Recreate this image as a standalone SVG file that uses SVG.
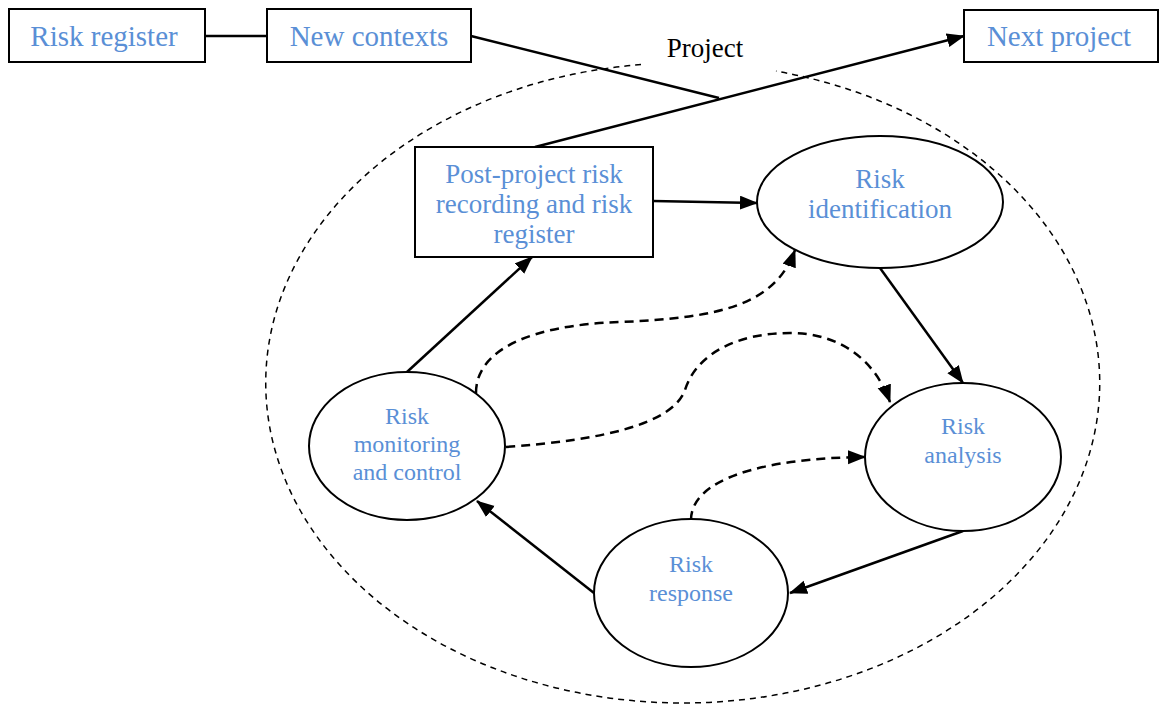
<svg xmlns="http://www.w3.org/2000/svg" width="1163" height="705" viewBox="0 0 1163 705">
<style>
.box{fill:#fff;stroke:#000;stroke-width:2}
.node{fill:#fff;stroke:#000;stroke-width:2}
.t{font-family:"Liberation Serif","Times New Roman",serif;fill:#5A8FD6;text-anchor:middle}
.lbl{font-family:"Liberation Serif","Times New Roman",serif;fill:#000;text-anchor:middle;font-size:27px}
.big{font-size:29px}
.mid{font-size:27px}
.sm{font-size:24px}
.solid{fill:none;stroke:#000;stroke-width:2.5}
.dash{fill:none;stroke:#000;stroke-width:2.5;stroke-dasharray:9 6}
.proj{fill:none;stroke:#000;stroke-width:1.5;stroke-dasharray:6 5}
</style>
<defs>
<marker id="ah" markerUnits="userSpaceOnUse" markerWidth="20" markerHeight="16" refX="17" refY="7" orient="auto">
<path d="M0,0 L18,7 L0,14 z" fill="#000"/>
</marker>
</defs>
<rect width="1163" height="705" fill="#fff"/>

<g id="project-boundary">
<path class="proj" d="M641,64.6 A417,320 0 1,0 776,71.1"/>
<text class="lbl" x="705" y="57">Project</text>
</g>

<g id="connectors">
<line class="solid" x1="205" y1="36" x2="267" y2="36"/>
<line class="solid" x1="471" y1="36" x2="719" y2="98"/>
<line class="solid" x1="535" y1="147" x2="964" y2="36" marker-end="url(#ah)"/>
<line class="solid" x1="653" y1="201" x2="757" y2="203" marker-end="url(#ah)"/>
<line class="solid" x1="880" y1="268" x2="963" y2="383" marker-end="url(#ah)"/>
<line class="solid" x1="963" y1="531" x2="790" y2="593" marker-end="url(#ah)"/>
<line class="solid" x1="594" y1="593" x2="477" y2="501" marker-end="url(#ah)"/>
<line class="solid" x1="407" y1="372" x2="532" y2="257" marker-end="url(#ah)"/>
<path class="dash" d="M476,393 C476,350 530,325 620,322 C720,318 775,305 795,250" marker-end="url(#ah)"/>
<path class="dash" d="M506,447 C600,440 672,425 685,390 C697,352 740,333 790,333 C840,333 875,360 890,402" marker-end="url(#ah)"/>
<path class="dash" d="M691,520 C691,480 760,458 865,457" marker-end="url(#ah)"/>
</g>

<g id="risk-register">
<rect class="box" x="9" y="9" width="196" height="53"/>
<text class="t big" x="104" y="46">Risk register</text>
</g>
<g id="new-contexts">
<rect class="box" x="267" y="9" width="204" height="53"/>
<text class="t big" x="369" y="46">New contexts</text>
</g>
<g id="next-project">
<rect class="box" x="964" y="10" width="194" height="52"/>
<text class="t big" x="1059" y="46">Next project</text>
</g>
<g id="post-project">
<rect class="box" x="415" y="147" width="238" height="110"/>
<text class="t mid" x="534" y="183">Post-project risk</text>
<text class="t mid" x="534" y="213">recording and risk</text>
<text class="t mid" x="534" y="243">register</text>
</g>
<g id="risk-identification">
<ellipse class="node" cx="880" cy="202" rx="123" ry="66"/>
<text class="t mid" x="880" y="188">Risk</text>
<text class="t mid" x="880" y="218">identification</text>
</g>
<g id="risk-analysis">
<ellipse class="node" cx="963" cy="457" rx="98" ry="74"/>
<text class="t sm" x="963" y="434">Risk</text>
<text class="t sm" x="963" y="463">analysis</text>
</g>
<g id="risk-response">
<ellipse class="node" cx="691" cy="593" rx="97" ry="74"/>
<text class="t sm" x="691" y="572">Risk</text>
<text class="t sm" x="691" y="601">response</text>
</g>
<g id="risk-monitoring">
<ellipse class="node" cx="407" cy="446" rx="98" ry="74"/>
<text class="t sm" x="407" y="424">Risk</text>
<text class="t sm" x="407" y="452">monitoring</text>
<text class="t sm" x="407" y="480">and control</text>
</g>
</svg>
